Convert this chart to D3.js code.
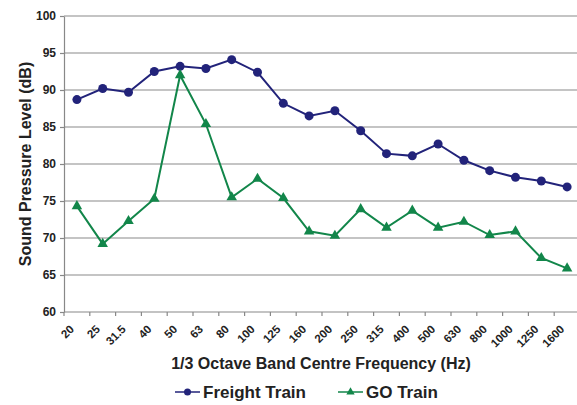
<!DOCTYPE html>
<html>
<head>
<meta charset="utf-8">
<script src="https://cdn.jsdelivr.net/npm/d3@7"></script>
<style>
  body { margin: 0; background: #fff; }
  text { font-family: "Liberation Sans", Arial, sans-serif; font-weight: bold; fill: #222; }
</style>
</head>
<body>
<div id="chart"></div>
<script>
const width = 577;
const height = 405;

// --- Data ---
const bands = ["20","25","31.5","40","50","63","80","100","125","160","200","250","315","400","500","630","800","1000","1250","1600"];
const freightTrain = [88.7,90.2,89.7,92.5,93.2,92.9,94.1,92.4,88.2,86.5,87.2,84.5,81.4,81.1,82.7,80.5,79.1,78.2,77.7,76.9];
const goTrain = [74.3,69.2,72.3,75.3,92.0,85.4,75.5,78.0,75.4,70.9,70.3,73.9,71.4,73.7,71.4,72.2,70.4,70.9,67.3,65.9];
const yTicks = [60,65,70,75,80,85,90,95,100];

const navy = "#22237a";
const green = "#12864a";

const margin = {top: 16, right: -3, bottom: 93, left: 64};

const svg = d3.select("#chart")
  .append("svg")
  .attr("width", width)
  .attr("height", height);

const x = d3.scaleBand()
  .domain(bands)
  .range([margin.left, width - margin.right]);

const y = d3.scaleLinear()
  .domain([60, 100])
  .range([height - margin.bottom, margin.top]);

// --- Gridlines ---
svg.append("g")
  .selectAll("line")
  .data(yTicks.slice(1))
  .enter()
  .append("line")
  .attr("x1", margin.left)
  .attr("x2", width - margin.right)
  .attr("y1", d => y(d))
  .attr("y2", d => y(d))
  .attr("stroke", "#8a8a8a")
  .attr("stroke-width", 1.2);

// --- Y axis ---
const yAxis = svg.append("g")
  .attr("transform", `translate(${margin.left},0)`)
  .call(d3.axisLeft(y).tickValues(yTicks).tickSize(4).tickSizeOuter(0).tickPadding(4));
yAxis.selectAll("path, line").attr("stroke", "#888").attr("stroke-width", 1.2);
yAxis.selectAll("text").attr("font-size", 12).attr("fill", "#222")
  .attr("font-family", "Liberation Sans, Arial, sans-serif").attr("font-weight", "bold");

// --- X axis (ticks between categories) ---
const xBase = y(60);
const xg = svg.append("g");
xg.append("line")
  .attr("x1", margin.left).attr("x2", width - margin.right)
  .attr("y1", xBase).attr("y2", xBase)
  .attr("stroke", "#888").attr("stroke-width", 1.2);
xg.selectAll("line.tick")
  .data(bands)
  .enter()
  .append("line")
  .attr("class", "tick")
  .attr("x1", d => x(d)).attr("x2", d => x(d))
  .attr("y1", xBase).attr("y2", xBase + 4)
  .attr("stroke", "#888").attr("stroke-width", 1.2);
xg.selectAll("text")
  .data(bands)
  .enter()
  .append("text")
  .attr("transform", d => `translate(${x(d) + x.bandwidth() / 2 - 2},${xBase + 18}) rotate(-45)`)
  .attr("text-anchor", "end")
  .attr("font-size", 11.5)
  .text(d => d);

// --- Lines ---
const line = d3.line()
  .x((d, i) => x(bands[i]) + x.bandwidth() / 2)
  .y(d => y(d));

svg.append("path")
  .datum(freightTrain)
  .attr("fill", "none")
  .attr("stroke", navy)
  .attr("stroke-width", 2)
  .attr("d", line);

svg.append("path")
  .datum(goTrain)
  .attr("fill", "none")
  .attr("stroke", green)
  .attr("stroke-width", 2)
  .attr("d", line);

svg.append("g")
  .selectAll("circle")
  .data(freightTrain)
  .enter()
  .append("circle")
  .attr("cx", (d, i) => x(bands[i]) + x.bandwidth() / 2)
  .attr("cy", d => y(d))
  .attr("r", 4.5)
  .attr("fill", navy);

const tri = d3.symbol().type(d3.symbolTriangle).size(48);
svg.append("g")
  .selectAll("path")
  .data(goTrain)
  .enter()
  .append("path")
  .attr("d", tri)
  .attr("transform", (d, i) => `translate(${x(bands[i]) + x.bandwidth() / 2},${y(d)})`)
  .attr("fill", green);

// --- Axis titles ---
svg.append("text")
  .attr("transform", `translate(31,${(margin.top + xBase) / 2}) rotate(-90)`)
  .attr("text-anchor", "middle")
  .attr("font-size", 16)
  .text("Sound Pressure Level (dB)");

svg.append("text")
  .attr("x", 321)
  .attr("y", 369)
  .attr("text-anchor", "middle")
  .attr("font-size", 16)
  .text("1/3 Octave Band Centre Frequency (Hz)");

// --- Legend ---
const legend = [
  {name: "Freight Train", color: navy, shape: "circle", x: 175},
  {name: "GO Train", color: green, shape: "triangle", x: 338}
];
const lg = svg.append("g").selectAll("g")
  .data(legend)
  .enter()
  .append("g")
  .attr("transform", d => `translate(${d.x},392)`);
lg.append("line")
  .attr("x1", 0).attr("x2", 25)
  .attr("stroke", d => d.color).attr("stroke-width", 1.5);
lg.filter(d => d.shape === "circle").append("circle")
  .attr("cx", 12.5).attr("r", 3.5).attr("fill", d => d.color);
lg.filter(d => d.shape === "triangle").append("path")
  .attr("d", d3.symbol().type(d3.symbolTriangle).size(30))
  .attr("transform", "translate(12.5,0)")
  .attr("fill", d => d.color);
lg.append("text")
  .attr("x", 28)
  .attr("y", 6)
  .attr("font-size", 17)
  .text(d => d.name);
</script>
</body>
</html>
